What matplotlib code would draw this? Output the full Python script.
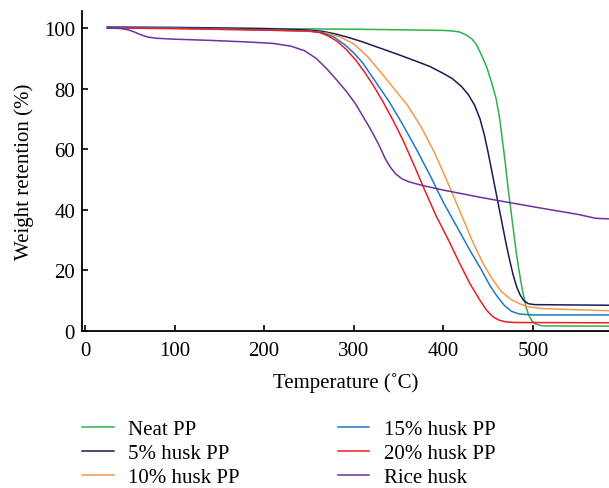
import matplotlib
matplotlib.use("Agg")
import matplotlib.pyplot as plt

plt.rcParams['font.family'] = ['Liberation Serif', 'DejaVu Serif']

neat_x = [25, 100, 200, 300, 400, 410, 418, 425, 432, 437, 442, 448, 454, 459, 463, 466, 469, 472, 475, 478, 481, 484, 488, 492, 495, 499, 503, 510, 585]
neat_y = [100, 100, 99.8, 99.6, 99.2, 99, 98.7, 97.8, 96.4, 94.5, 91.5, 87.5, 82, 76.6, 70, 63, 56, 48, 41, 34, 27, 21, 14, 8.3, 5.5, 3.3, 2.3, 1.7, 1.6]

h5_x = [25, 100, 200, 250, 265, 280, 295, 310, 330, 350, 370, 385, 400, 410, 420, 428, 435, 441, 446, 450, 454, 458, 462, 466, 470, 474, 478, 482, 486, 490, 495, 502, 585]
h5_y = [100.3, 100.2, 99.8, 99.3, 98.9, 98, 96.8, 95.4, 93.3, 91.2, 89, 87.3, 85, 83.3, 80.8, 78, 74.5, 70, 64.5, 59, 53, 47, 41, 35, 29, 23.5, 18.5, 14.5, 11.8, 10, 9, 8.7, 8.5]

h10_x = [25, 100, 200, 250, 270, 285, 300, 315, 330, 345, 360, 375, 390, 405, 420, 432, 444, 455, 465, 475, 485, 495, 510, 540, 585]
h10_y = [100, 99.8, 99.3, 98.9, 98.3, 97, 94.8, 90.7, 85.5, 80, 74.5, 67.5, 59, 49, 38.5, 30, 22.5, 17, 13, 10.5, 9, 8, 7.4, 7.1, 6.7]

h15_x = [25, 100, 200, 250, 265, 278, 290, 300, 310, 325, 340, 355, 370, 385, 400, 415, 430, 442, 452, 460, 468, 476, 485, 500, 585]
h15_y = [100.2, 100, 99.4, 99, 98.5, 97, 94.5, 91.8, 88.5, 82, 75.5, 68, 60, 51.5, 42.5, 34.5, 26.5, 20.5, 15, 11.5, 8.5, 6.5, 5.6, 5.3, 5.3]

h20_x = [25, 100, 200, 250, 262, 272, 282, 292, 302, 312, 322, 332, 344, 355, 367, 380, 392, 405, 418, 430, 440, 448, 455, 462, 470, 480, 585]
h20_y = [100, 99.8, 99.3, 99, 98.5, 97.3, 95.5, 92.8, 89.5, 85.5, 81, 76, 69.5, 63, 55, 46, 38, 30.5, 22.5, 15.5, 10.6, 7, 4.8, 3.6, 3, 2.8, 2.7]

rice_x = [25, 40, 48, 55, 62, 70, 80, 100, 140, 180, 210, 230, 245, 258, 270, 282, 292, 302, 312, 320, 328, 335, 341, 347, 354, 362, 377, 400, 440, 462, 514, 550, 570, 585]
rice_y = [100, 99.8, 99.4, 98.7, 97.8, 97, 96.6, 96.3, 95.9, 95.4, 94.9, 94, 92.5, 90, 86.5, 82.5, 79, 75, 70, 66, 61.5, 57, 54, 51.8, 50.2, 49.2, 48, 46.5, 44.2, 43, 40.3, 38.5, 37.2, 37]

labels = ["Neat PP", "5% husk PP", "10% husk PP", "15% husk PP", "20% husk PP", "Rice husk"]
colors = ["#2db24a", "#1b1a55", "#f5994a", "#1f78c8", "#ee1c24", "#7030a0"]
xticks = [0, 100, 200, 300, 400, 500]
yticks = [0, 20, 40, 60, 80, 100]

fig = plt.figure(figsize=(6.09, 4.89), dpi=100)
ax = fig.add_axes([82/609, 1-332/489, 1-82/609, (332-12)/489])

series = [(neat_x, neat_y), (h5_x, h5_y), (h10_x, h10_y), (h15_x, h15_y), (h20_x, h20_y), (rice_x, rice_y)]
for (xs, ys), lab, c in zip(series, labels, colors):
    ax.plot(xs, ys, color=c, lw=1.1, label=lab)

ax.set_xlim(-3.3, 585)
ax.set_ylim(0, 105.6)
ax.set_xticks(xticks)
ax.set_yticks(yticks)
ax.spines['top'].set_visible(False)
ax.spines['right'].set_visible(False)
ax.spines['left'].set_linewidth(1.3)
ax.spines['bottom'].set_linewidth(1.3)
ax.tick_params(direction='in', length=4, width=1.2, labelsize=15, pad=5)
ax.tick_params(axis='x', pad=7)
ax.set_xlabel("Temperature (˚C)", fontsize=15, labelpad=9)
ax.set_ylabel("Weight retention (%)", fontsize=15, labelpad=7)

handles, labs = ax.get_legend_handles_labels()
fig.legend(handles, labs, ncol=2, loc='upper left', bbox_to_anchor=(74/609, 1-412/489),
           frameon=False, fontsize=15, handlelength=1.5, handletextpad=0.7,
           columnspacing=4.7, labelspacing=0.22, borderaxespad=0)

fig.savefig("out.png", dpi=100)
